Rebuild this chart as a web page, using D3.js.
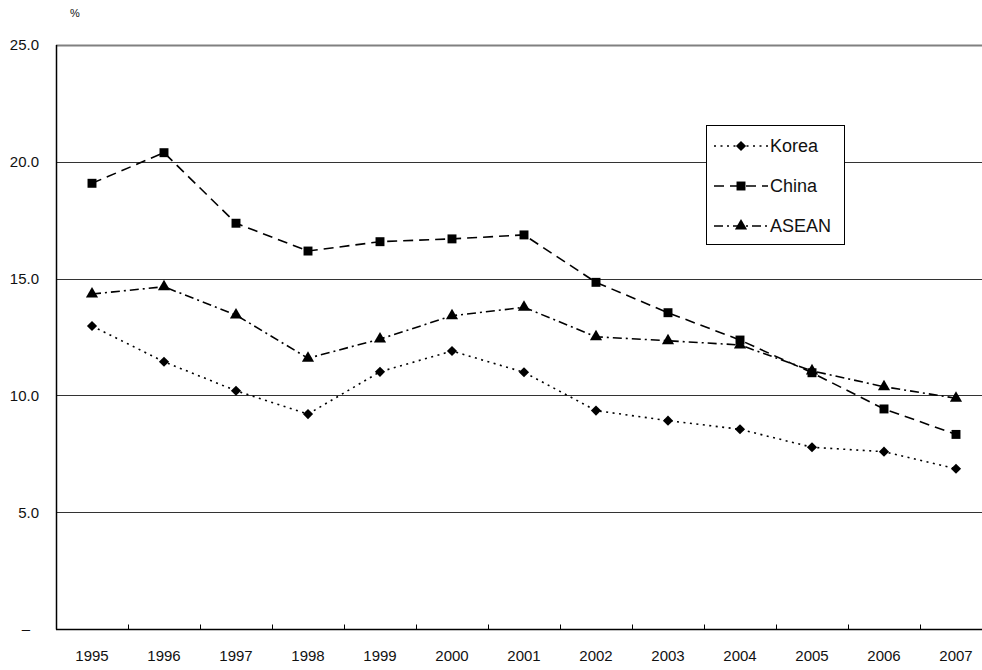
<!DOCTYPE html>
<html>
<head>
<meta charset="utf-8">
<script src="https://cdn.jsdelivr.net/npm/d3@7"></script>
<style>
  html, body { margin: 0; padding: 0; background: #fff; overflow: hidden; }
  svg { display: block; font-family: "Liberation Sans", Arial, sans-serif; }
</style>
</head>
<body>
<svg id="chart" width="982" height="670"></svg>
<script>
// Share by year, in percent
const years = ["1995","1996","1997","1998","1999","2000","2001","2002","2003","2004","2005","2006","2007"];
const korea = [12.97, 11.44, 10.20, 9.20, 11.01, 11.90, 10.99, 9.35, 8.92, 8.55, 7.78, 7.59, 6.86];
const china = [19.08, 20.39, 17.37, 16.18, 16.58, 16.70, 16.87, 14.84, 13.54, 12.37, 10.97, 9.42, 8.33];
const asean = [14.34, 14.65, 13.44, 11.59, 12.41, 13.41, 13.77, 12.51, 12.34, 12.16, 11.05, 10.37, 9.88];
const yTicks = [0, 5, 10, 15, 20, 25];
const seriesNames = ["Korea", "China", "ASEAN"];

const series = [
  { name: seriesNames[0], values: korea, dash: "2,4.5", symbol: d3.symbolSquare, size: 52, rotate: 45 },
  { name: seriesNames[1], values: china, dash: "10,6", symbol: d3.symbolSquare, size: 80, rotate: 0 },
  { name: seriesNames[2], values: asean, dash: "9,4,2,4", symbol: d3.symbolTriangle, size: 64, rotate: 0 }
];

const svg = d3.select("#chart");
const plotLeft = 56, plotRight = 992, plotTop = 45, plotBottom = 629;
const viewRight = 982;

const x = d3.scaleBand().domain(years).range([plotLeft, plotRight]).paddingInner(0).paddingOuter(0);
const y = d3.scaleLinear().domain([0, 25]).range([plotBottom, plotTop]);

// Horizontal gridlines
svg.append("g")
  .selectAll("line")
  .data(yTicks.filter(t => t > 0))
  .join("line")
  .attr("x1", plotLeft).attr("x2", viewRight)
  .attr("y1", d => Math.round(y(d)) + 0.5).attr("y2", d => Math.round(y(d)) + 0.5)
  .attr("stroke", d => d === 25 ? "#808080" : "#333")
  .attr("stroke-width", d => d === 25 ? 2 : 1.2);

// Y axis labels
svg.append("g")
  .selectAll("text")
  .data(yTicks)
  .join("text")
  .attr("x", d => d === 0 ? 30 : 39)
  .attr("y", d => y(d))
  .attr("dy", "0.36em")
  .attr("text-anchor", "end")
  .attr("font-size", 15)
  .attr("fill", "#111")
  .text(d => d === 0 ? "–" : d3.format(".1f")(d));

// Unit label
svg.append("text")
  .attr("x", 75).attr("y", 17)
  .attr("text-anchor", "middle")
  .attr("font-size", 11)
  .attr("fill", "#111")
  .text("%");

// Y axis line
svg.append("line")
  .attr("x1", plotLeft + 0.5).attr("x2", plotLeft + 0.5)
  .attr("y1", plotTop).attr("y2", plotBottom + 0.5)
  .attr("stroke", "#000").attr("stroke-width", 1.5);

// X axis with ticks between categories
const xAxisG = svg.append("g").attr("transform", `translate(0,${plotBottom + 0.5})`);
xAxisG.append("line")
  .attr("x1", plotLeft).attr("x2", viewRight)
  .attr("stroke", "#000").attr("stroke-width", 1.5);
xAxisG.selectAll("line.tick")
  .data(years.slice(1))
  .join("line")
  .attr("class", "tick")
  .attr("x1", d => Math.round(x(d)) + 0.5).attr("x2", d => Math.round(x(d)) + 0.5)
  .attr("y1", 0).attr("y2", -5)
  .attr("stroke", "#000").attr("stroke-width", 1);
xAxisG.selectAll("text")
  .data(years)
  .join("text")
  .attr("x", d => x(d) + x.bandwidth() / 2)
  .attr("y", 31)
  .attr("text-anchor", "middle")
  .attr("font-size", 15)
  .attr("fill", "#111")
  .text(d => d);

// Lines and markers
const line = d3.line()
  .x((d, i) => x(years[i]) + x.bandwidth() / 2)
  .y(d => y(d));

series.forEach(s => {
  svg.append("path")
    .datum(s.values)
    .attr("d", line)
    .attr("fill", "none")
    .attr("stroke", "#000")
    .attr("stroke-width", 1.6)
    .attr("stroke-dasharray", s.dash);
  svg.append("g")
    .selectAll("path")
    .data(s.values)
    .join("path")
    .attr("transform", (d, i) => `translate(${x(years[i]) + x.bandwidth() / 2},${y(d)}) rotate(${s.rotate})`)
    .attr("d", d3.symbol().type(s.symbol).size(s.size))
    .attr("fill", "#000");
});

// Legend
const legend = svg.append("g").attr("transform", "translate(706,125)");
legend.append("rect")
  .attr("x", 0.5).attr("y", 0.5)
  .attr("width", 138).attr("height", 119)
  .attr("fill", "#fff")
  .attr("stroke", "#000").attr("stroke-width", 1);
series.forEach((s, i) => {
  const cy = 21 + i * 40;
  legend.append("line")
    .attr("x1", 8).attr("x2", 62)
    .attr("y1", cy).attr("y2", cy)
    .attr("stroke", "#000").attr("stroke-width", 1.6)
    .attr("stroke-dasharray", s.dash);
  legend.append("path")
    .attr("transform", `translate(35,${cy}) rotate(${s.rotate})`)
    .attr("d", d3.symbol().type(s.symbol).size(s.size))
    .attr("fill", "#000");
  legend.append("text")
    .attr("x", 64).attr("y", cy)
    .attr("dy", "0.36em")
    .attr("font-size", 18)
    .attr("fill", "#111")
    .text(s.name);
});
</script>
</body>
</html>
